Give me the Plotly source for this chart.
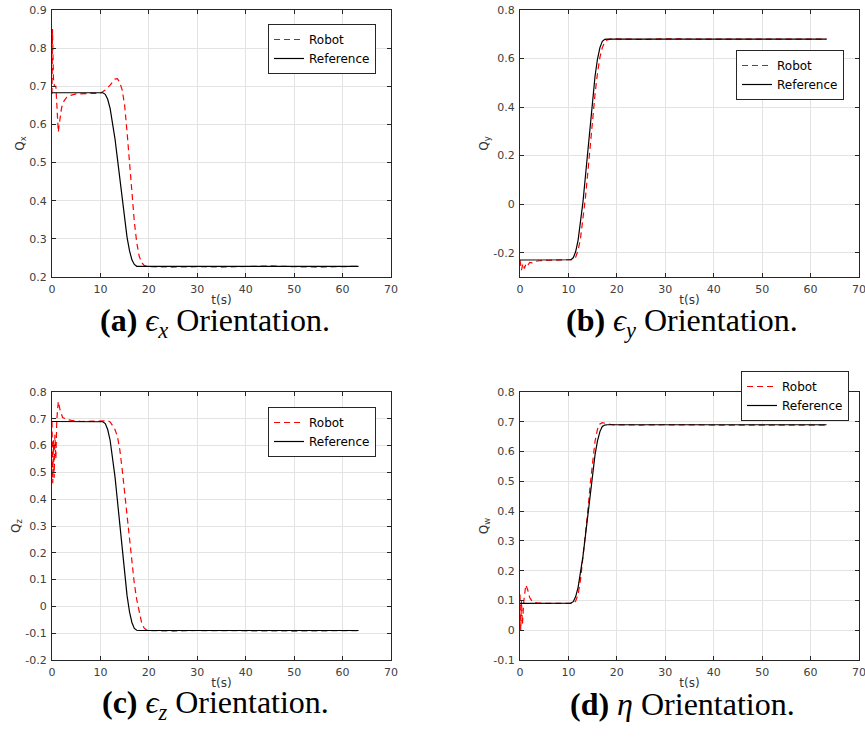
import plotly.graph_objects as go

# ---------------- data ----------------
t_ref = [0, 10, 10.5, 11, 11.5, 12, 12.5, 13, 13.5, 14, 14.5, 15, 15.5, 16, 16.5, 17, 17.5, 18, 63.3]
qx_ref = [0.683, 0.683, 0.683, 0.679, 0.666, 0.642, 0.607, 0.563, 0.511, 0.456, 0.400, 0.348, 0.304,
          0.269, 0.245, 0.233, 0.228, 0.228, 0.228]
qy_ref = [-0.230, -0.230, -0.229, -0.221, -0.195, -0.148, -0.078, 0.009, 0.113, 0.225, 0.337, 0.441,
          0.528, 0.598, 0.645, 0.671, 0.679, 0.680, 0.680]
qz_ref = [0.690, 0.690, 0.689, 0.682, 0.660, 0.620, 0.560, 0.485, 0.396, 0.300, 0.204, 0.115, 0.040,
          -0.020, -0.060, -0.082, -0.089, -0.090, -0.090]
qw_ref = [0.090, 0.090, 0.091, 0.096, 0.113, 0.144, 0.190, 0.248, 0.316, 0.390, 0.464, 0.532, 0.590,
          0.636, 0.667, 0.684, 0.689, 0.690, 0.690]

t_qx_rob = [0, 0.1, 0.3, 0.5, 0.8, 1.0, 1.3, 1.6, 2.0, 2.5, 3.0, 4.0, 5.0, 10.0, 11.0, 12.0, 12.5, 13.0,
            13.5, 14.0, 14.5, 15.0, 15.5, 16.0, 16.5, 17.0, 17.5, 18.0, 18.5, 19.0, 19.5, 20.0,
            25, 30, 35, 40, 45, 50, 55, 63.3]
qx_rob = [0.68, 0.85, 0.72, 0.70, 0.70, 0.65, 0.58, 0.61, 0.645, 0.662, 0.671, 0.677, 0.68, 0.682, 0.69,
          0.703, 0.712, 0.719, 0.72, 0.71, 0.69, 0.65, 0.58, 0.50, 0.42, 0.345, 0.29, 0.255, 0.238,
          0.231, 0.228, 0.227, 0.226, 0.227, 0.226, 0.227, 0.229, 0.227, 0.226, 0.228]

t_qy_rob = [0, 0.3, 0.6, 0.9, 1.2, 1.5, 2.0, 2.5, 3.0, 4.0, 6.0, 10.5, 11, 11.5, 12, 12.5, 13, 13.5, 14,
            14.5, 15, 15.5, 16, 16.5, 17, 17.5, 18, 18.5, 19, 25, 30, 40, 50, 63.3]
qy_rob = [-0.23, -0.272, -0.245, -0.265, -0.248, -0.255, -0.24, -0.242, -0.236, -0.233, -0.231,
          -0.23, -0.228, -0.218, -0.19, -0.14, -0.065, 0.025, 0.13, 0.245, 0.355, 0.455, 0.54, 0.605,
          0.645, 0.668, 0.677, 0.68, 0.681, 0.679, 0.681, 0.68, 0.681, 0.68]

t_qz_rob = [0, 0.15, 0.3, 0.45, 0.6, 0.8, 1.0, 1.3, 1.7, 2.2, 3.0, 4.0, 6.0, 10, 11, 11.5, 12, 12.5, 13,
            13.5, 14, 14.5, 15, 15.5, 16, 16.5, 17, 17.5, 18, 18.5, 19, 19.5, 20, 25, 30, 40, 50, 63.3]
qz_rob = [0.69, 0.46, 0.62, 0.48, 0.64, 0.55, 0.70, 0.765, 0.73, 0.705, 0.698, 0.694, 0.69,
          0.69, 0.692, 0.693, 0.688, 0.675, 0.66, 0.635, 0.585, 0.51, 0.42, 0.33, 0.24, 0.155, 0.085,
          0.025, -0.025, -0.06, -0.08, -0.088, -0.09, -0.092, -0.09, -0.091, -0.092, -0.09]

t_qw_rob = [0, 0.15, 0.3, 0.5, 0.8, 1.2, 1.6, 2.0, 2.5, 3.5, 5.0, 10, 11, 11.5, 12, 12.5, 13, 13.5, 14,
            14.5, 15, 15.5, 16, 16.5, 17, 17.5, 18, 19, 25, 30, 40, 50, 63.3]
qw_rob = [0.12, 0.0, 0.1, 0.02, 0.1, 0.152, 0.135, 0.11, 0.097, 0.092, 0.09,
          0.088, 0.09, 0.098, 0.12, 0.17, 0.24, 0.32, 0.40, 0.49, 0.57, 0.635, 0.675, 0.693, 0.697,
          0.695, 0.692, 0.69, 0.689, 0.69, 0.689, 0.69, 0.689]

x_ticks = [0, 10, 20, 30, 40, 50, 60, 70]
y_ticks_a = [0.2, 0.3, 0.4, 0.5, 0.6, 0.7, 0.8, 0.9]
y_ticks_b = [-0.2, 0, 0.2, 0.4, 0.6, 0.8]
y_ticks_c = [-0.2, -0.1, 0, 0.1, 0.2, 0.3, 0.4, 0.5, 0.6, 0.7, 0.8]
y_ticks_d = [-0.1, 0, 0.1, 0.2, 0.3, 0.4, 0.5, 0.6, 0.7, 0.8]

y_labels = ["Q<sub>x</sub>", "Q<sub>y</sub>", "Q<sub>z</sub>", "Q<sub>w</sub>"]
captions = ["<b>(a)</b> <i>ϵ<sub>x</sub></i> Orientation.",
            "<b>(b)</b> <i>ϵ<sub>y</sub></i> Orientation.",
            "<b>(c)</b> <i>ϵ<sub>z</sub></i> Orientation.",
            "<b>(d)</b> <i>η</i> Orientation."]

# ---------------- figure ----------------
W, H = 865, 747
ML, MR, MT, MB = 52, 6, 10, 87
PW, PH = W - ML - MR, H - MT - MB


def px_x(px):
    return (px - ML) / PW


def px_y(py):
    return (H - MB - py) / PH


x_dom = [[0, px_x(391)], [px_x(520), 1.0]]
y_dom = [[px_y(277), 1.0], [0.0, px_y(392)]]

panels = [
    (t_ref, qx_ref, t_qx_rob, qx_rob, y_ticks_a, [0.2, 0.9], 0, 0, (268, 24)),
    (t_ref, qy_ref, t_qy_rob, qy_rob, y_ticks_b, [-0.3, 0.8], 1, 0, (736, 50)),
    (t_ref, qz_ref, t_qz_rob, qz_rob, y_ticks_c, [-0.2, 0.8], 0, 1, (268, 407)),
    (t_ref, qw_ref, t_qw_rob, qw_rob, y_ticks_d, [-0.1, 0.8], 1, 1, (741, 371)),
]

fig = go.Figure()
AX = "#262626"
GRID = "#e3e3e3"
tickfont = dict(family="DejaVu Sans", size=11, color="#404040")

layout = dict(
    width=W, height=H,
    margin=dict(l=ML, r=MR, t=MT, b=MB, autoexpand=False),
    paper_bgcolor="white", plot_bgcolor="white",
    showlegend=True,
)
annotations = []

for i, (tr, yr, tb, yb, yt, yrange, col, row, legpos) in enumerate(panels):
    n = "" if i == 0 else str(i + 1)
    leg = "legend" if i == 0 else f"legend{i + 1}"
    fig.add_trace(go.Scatter(x=tb, y=yb, mode="lines", name="Robot",
                             line=dict(color="#ff0000", width=1.2, dash="6px,4px"),
                             xaxis="x" + n, yaxis="y" + n, legend=leg))
    fig.add_trace(go.Scatter(x=tr, y=yr, mode="lines", name="Reference",
                             line=dict(color="#000000", width=1.2),
                             xaxis="x" + n, yaxis="y" + n, legend=leg))
    common = dict(showline=True, mirror="ticks", linecolor=AX, linewidth=1,
                  ticks="inside", ticklen=4, tickcolor=AX, tickwidth=1,
                  showgrid=True, gridcolor=GRID, gridwidth=1, zeroline=False,
                  tickfont=tickfont, automargin=False, ticklabeloverflow="allow")
    layout["xaxis" + n] = dict(common, domain=x_dom[col], range=[0, 70],
                               tickvals=x_ticks, ticktext=[str(v) for v in x_ticks],
                               anchor="y" + n, ticklabelstandoff=2,
                               title=dict(text="t(s)", standoff=0,
                                          font=dict(family="DejaVu Sans", size=12, color="#333333")))
    layout["yaxis" + n] = dict(common, domain=y_dom[row], range=yrange,
                               tickvals=yt, ticktext=[f"{v:g}" for v in yt],
                               anchor="x" + n, ticklabelstandoff=2,
                               title=dict(text=y_labels[i], standoff=2,
                                          font=dict(family="DejaVu Sans", size=12, color="#333333")))
    layout[leg] = dict(x=px_x(legpos[0]), y=px_y(legpos[1]), xanchor="left", yanchor="top",
                       xref="paper", yref="paper",
                       bgcolor="white", bordercolor="#262626", borderwidth=1,
                       font=dict(family="DejaVu Sans", size=12, color="#000000"),
                       tracegroupgap=0)
    cx = px_x(215) if col == 0 else px_x(682)
    cy = px_y(322) if row == 0 else px_y(704)
    annotations.append(dict(text=captions[i], x=cx, y=cy, xref="paper", yref="paper",
                            xanchor="center", yanchor="middle", showarrow=False,
                            font=dict(family="Liberation Serif", size=32, color="#000000")))

layout["annotations"] = annotations
fig.update_layout(**layout)
fig.write_html("out.html", config={"displayModeBar": False},
               post_script="document.body.style.margin='0';document.body.style.overflow='hidden';")
